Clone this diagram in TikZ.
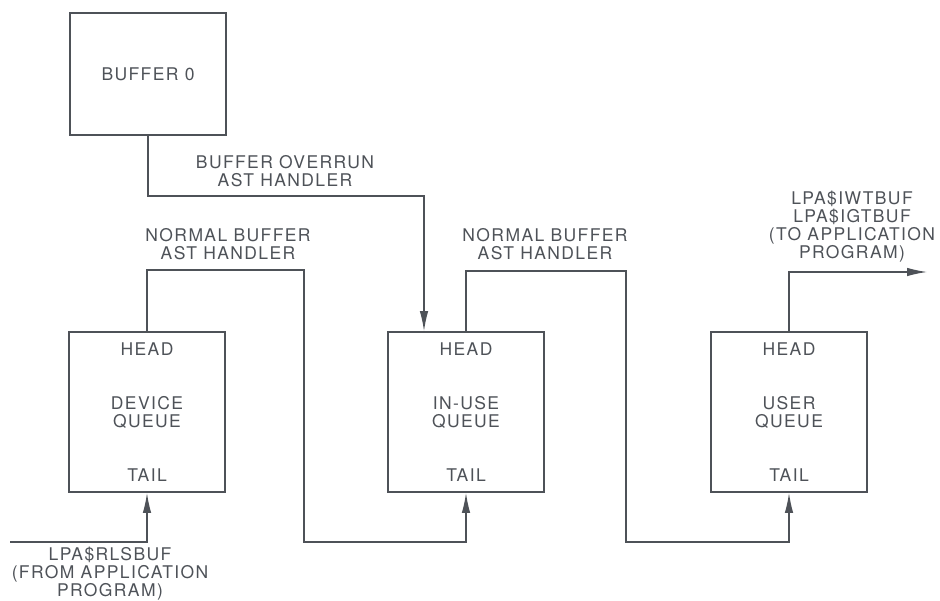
\documentclass[tikz,border=0pt]{standalone}
\usepackage{fontspec}
\setmainfont{TeX Gyre Heros}[LetterSpace=8]
\usetikzlibrary{arrows.meta}
\definecolor{ink}{RGB}{78,82,88}
\tikzset{
  box/.style={draw=ink,line width=1.9pt,text=ink,align=center,inner sep=0pt,
    minimum width=156pt,minimum height=160pt,font=\fontsize{17.5}{18}\selectfont},
  lbl/.style={text=ink,align=center,inner sep=0pt,font=\fontsize{17.5}{18}\selectfont},
  conn/.style={draw=ink,line width=1.2pt},
  tip/.style={-{Latex[length=20pt,width=8.5pt]}}
}
\begin{document}
\begin{tikzpicture}[x=1pt,y=-1pt]
\useasboundingbox (0,0) rectangle (940,600);

\node[box,minimum height=122pt] (buf) at (148,74) {BUFFER 0};

% the three queues
\foreach \n/\x/\t in {dev/147/DEVICE,inuse/466/IN-USE,user/789/USER}{
\node[box] (\n) at (\x,412) {\t\\QUEUE};
\node[lbl] (\n head) at (\x,349) {HEAD};
\node[lbl] (\n tail) at (\x,475) {TAIL};
}

\coordinate (ovr) at (424,196);
\coordinate (n1) at (304,270);
\coordinate (n1b) at (304,542);
\coordinate (n2) at (626,271);
\coordinate (n2b) at (626,542);
\coordinate (out) at (927,272);
\coordinate (in) at (10,542);

\draw[conn,tip] (buf.south) |- (ovr) -- (ovr |- inuse.north);
\draw[conn,tip] (dev.north) |- (n1) -- (n1b) -| (inuse.south);
\draw[conn,tip] (inuse.north) |- (n2) -- (n2b) -| (user.south);
\draw[conn,tip] (user.north) |- (out);
\draw[conn,tip] (in) -| (dev.south);

\node[lbl] (ovrlbl) at (285,171) {BUFFER OVERRUN\\AST HANDLER};
\node[lbl] (n1lbl) at (228,244) {NORMAL BUFFER\\AST HANDLER};
\node[lbl] (n2lbl) at (545,244) {NORMAL BUFFER\\AST HANDLER};
\node[lbl] (outlbl) at (852,227) {LPA\$IWTBUF\\LPA\$IGTBUF\\(TO APPLICATION\\PROGRAM)};
\node[lbl] (inlbl) at (110,574) {LPA\$RLSBUF\\(FROM APPLICATION\\PROGRAM)};
\end{tikzpicture}
\end{document}
